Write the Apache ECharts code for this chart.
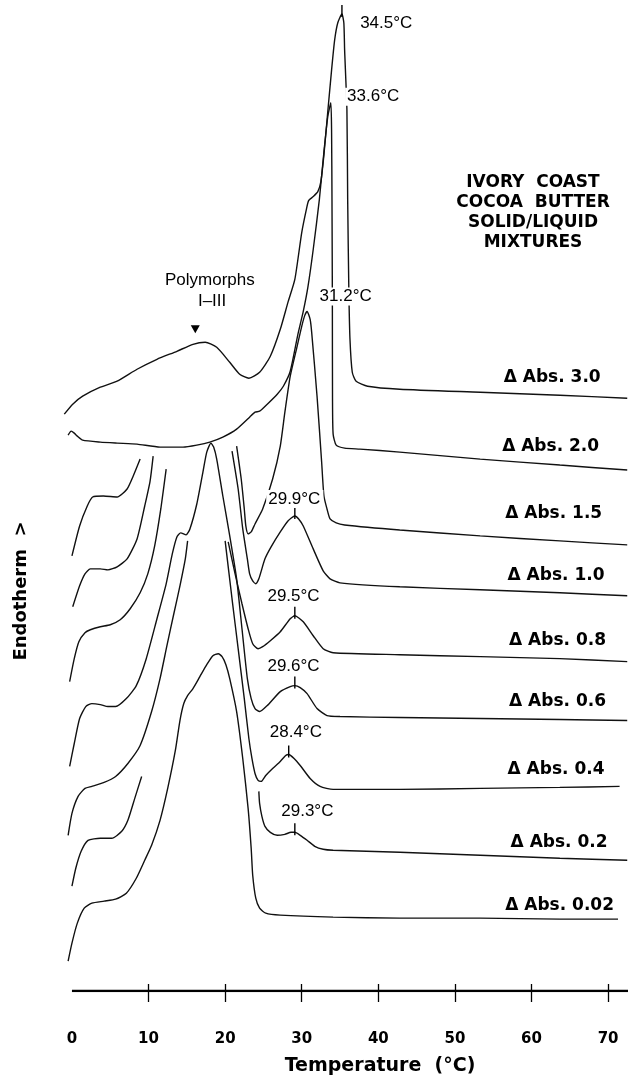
<!DOCTYPE html>
<html>
<head>
<meta charset="utf-8">
<script src="https://cdn.jsdelivr.net/npm/echarts@6.0.0/dist/echarts.min.js"></script>
<style>
  html, body { margin: 0; padding: 0; background: #fff; }
  #chart { width: 628px; height: 1081px; }
</style>
</head>
<body>
<div id="chart"></div>
<script>
// DSC traces, [temperature °C, endotherm signal incl. trace offset]
// a trace is a list of segments (the pen runs off scale between them)
const abs30 = [[
  [-1.0, 57.8], [0.1, 58.8], [1.4, 59.6], [3.7, 60.5], [5.9, 61.1], [8.5, 62.3], [11.1, 63.3],
  [13.7, 64.1], [15.8, 64.8], [17.4, 65.0], [18.9, 64.5], [20.6, 63.0], [21.9, 61.8], [23.1, 61.4],
  [24.5, 62.0], [25.9, 63.6], [27.2, 66.3], [28.2, 69.0], [29.1, 71.3], [30.0, 76.0], [30.6, 78.3],
  [30.9, 79.2], [31.5, 79.6], [32.1, 80.1], [32.5, 81.1], [32.9, 83.8], [33.4, 88.1], [33.9, 92.3],
  [34.3, 95.3], [34.7, 97.0], [35.25, 97.9], [35.5, 97.0], [35.6, 94.3], [35.9, 88.3], [36.0, 79.3],
  [36.15, 70.3], [36.3, 65.3], [36.6, 62.0], [37.1, 61.1], [38.6, 60.6], [42.8, 60.3], [53.3, 60.0],
  [63.7, 59.7], [72.5, 59.4]
]];
const abs20 = [[
  [-0.5, 55.7], [-0.1, 56.1], [0.3, 55.9], [0.7, 55.6], [1.4, 55.2], [3.7, 55.0], [5.9, 54.9],
  [8.5, 54.8], [11.5, 54.5], [14.5, 54.5], [16.3, 54.7], [18.0, 55.0], [19.7, 55.5], [21.5, 56.3],
  [23.2, 57.5], [23.9, 58.0], [24.5, 58.1], [25.5, 58.8], [26.8, 59.8], [27.6, 60.6], [28.5, 62.1],
  [29.5, 65.8], [30.2, 68.1], [30.8, 70.5], [31.5, 74.3], [32.3, 79.3], [32.9, 84.1], [33.4, 87.6],
  [33.8, 89.0], [33.9, 86.0], [33.95, 79.3], [34.0, 69.3], [34.02, 59.3], [34.1, 55.8], [34.5, 54.7],
  [35.6, 54.4], [37.6, 54.3], [42.8, 54.0], [53.3, 53.3], [63.7, 52.7], [72.5, 52.2]
]];
const abs15 = [[
  [0.0, 43.6], [1.0, 46.6], [2.0, 48.6], [2.7, 49.5], [4.1, 49.6], [5.9, 49.5], [7.2, 50.3],
  [8.0, 51.6], [8.9, 53.3]
], [
  [21.5, 54.6], [22.1, 51.3], [22.5, 48.3], [22.7, 46.6], [23.0, 45.8], [23.4, 46.0], [23.9, 46.8],
  [24.9, 48.3], [26.2, 51.3], [27.2, 54.6], [27.8, 58.0], [28.5, 61.6], [29.4, 64.6], [30.0, 66.6],
  [30.4, 67.7], [30.7, 68.1], [31.1, 67.3], [31.3, 66.0], [32.0, 59.6], [32.6, 53.0], [32.9, 49.6],
  [33.3, 48.3], [33.7, 47.3], [34.5, 46.9], [35.6, 46.7], [42.8, 46.2], [53.3, 45.6], [63.7, 45.1],
  [72.5, 44.7]
]];
const abs10 = [[
  [0.1, 38.5], [1.0, 40.6], [1.7, 41.8], [2.4, 42.3], [3.7, 42.3], [4.7, 42.2], [5.9, 42.5],
  [7.2, 43.3], [8.5, 45.3], [9.5, 48.6], [10.2, 51.1], [10.6, 53.6]
], [
  [20.9, 54.1], [21.7, 50.3], [22.3, 46.3], [22.9, 43.3], [23.2, 41.8], [23.6, 41.1], [24.0, 40.8],
  [24.4, 41.3], [25.2, 43.3], [26.0, 44.5], [27.2, 46.0], [28.2, 47.1], [29.1, 47.6], [29.6, 47.3],
  [30.2, 46.6], [31.5, 44.3], [32.8, 42.1], [33.7, 41.3], [35.0, 40.9], [42.8, 40.5], [53.3, 40.2],
  [63.7, 39.9], [72.5, 39.6]
]];
const abs08 = [[
  [-0.3, 31.0], [0.3, 33.3], [0.9, 35.0], [1.7, 35.9], [2.4, 36.2], [3.7, 36.5], [5.0, 36.7],
  [6.3, 37.2], [7.6, 38.3], [8.9, 39.9], [9.9, 41.8], [10.8, 44.6], [11.6, 48.3], [12.3, 52.3]
], [
  [20.4, 45.0], [21.3, 41.8], [22.2, 38.8], [23.0, 36.3], [23.6, 34.8], [24.3, 34.3], [24.9, 34.5],
  [25.9, 35.1], [27.2, 36.0], [28.5, 37.3], [29.1, 37.6], [30.2, 37.0], [31.5, 35.6], [32.8, 34.3],
  [34.1, 33.9], [42.8, 33.7], [53.3, 33.5], [63.7, 33.3], [72.5, 33.0]
]];
const abs06 = [[
  [-0.3, 22.5], [0.3, 24.8], [1.0, 27.3], [1.8, 28.5], [2.6, 28.8], [3.7, 28.7], [4.7, 28.5],
  [5.7, 28.5], [7.1, 29.3], [8.4, 30.6], [9.7, 33.3], [11.1, 37.3], [12.3, 40.8], [13.1, 43.8],
  [13.7, 45.5], [14.2, 45.9], [14.9, 45.7], [15.4, 46.3], [16.3, 48.8], [17.1, 52.0], [17.6, 54.0],
  [18.15, 54.9], [18.5, 54.5], [18.9, 53.3], [19.7, 49.6], [20.6, 45.6], [21.5, 41.3], [22.2, 36.3],
  [22.9, 31.3], [23.4, 29.3], [23.9, 28.3], [24.5, 28.0], [25.5, 28.6], [27.2, 30.0], [28.5, 30.5],
  [29.1, 30.6], [29.8, 30.4], [30.7, 29.8], [32.0, 28.3], [33.3, 27.6], [35.0, 27.5], [42.8, 27.4],
  [53.3, 27.3], [63.7, 27.2], [72.5, 27.1]
]];
const abs04 = [[
  [-0.5, 15.6], [0.0, 17.8], [0.8, 19.5], [1.7, 20.3], [2.6, 20.5], [4.2, 20.9], [5.7, 21.5],
  [7.3, 22.8], [8.9, 24.6], [10.4, 28.0], [11.5, 31.3], [12.4, 34.6], [13.3, 37.8], [14.1, 40.6],
  [14.8, 43.3], [15.1, 45.1]
], [
  [20.0, 45.1], [20.9, 39.3], [21.7, 34.3], [22.5, 29.3], [23.1, 25.3], [23.5, 23.3], [23.9, 21.8],
  [24.3, 21.1], [24.7, 21.0], [25.3, 21.6], [26.2, 22.3], [27.2, 23.0], [27.9, 23.6], [28.3, 23.7],
  [29.0, 23.3], [29.8, 22.6], [31.1, 21.3], [32.4, 20.5], [34.1, 20.2], [42.8, 20.2], [53.3, 20.3],
  [63.7, 20.4], [71.5, 20.5]
]];
const abs02 = [[
  [0.0, 10.5], [0.5, 12.3], [1.2, 14.0], [2.1, 15.1], [3.7, 15.3], [5.2, 15.3], [6.5, 16.0],
  [7.3, 17.1], [8.2, 19.3], [9.1, 21.5]
], [
  [24.4, 20.0], [24.5, 18.8], [24.8, 17.5], [25.2, 16.5], [25.9, 15.9], [26.8, 15.6], [27.8, 15.7],
  [28.6, 15.9], [29.1, 15.9], [29.8, 15.6], [30.7, 15.1], [31.7, 14.5], [32.8, 14.2], [34.1, 14.1],
  [42.8, 13.9], [53.3, 13.6], [63.7, 13.3], [72.5, 13.1]
]];
const abs002 = [[
  [-0.5, 3.0], [0.0, 4.8], [0.7, 6.8], [1.6, 8.3], [2.6, 8.8], [4.2, 9.0], [5.7, 9.2], [7.1, 9.8],
  [8.4, 11.3], [9.5, 13.1], [10.4, 14.6], [11.5, 17.1], [12.5, 20.3], [13.5, 24.1], [14.1, 27.1],
  [14.6, 28.8], [15.1, 29.6], [15.8, 30.3], [16.7, 31.5], [17.6, 32.7], [18.4, 33.6], [19.1, 33.8],
  [19.6, 33.5], [20.1, 32.7], [20.6, 31.3], [21.5, 28.0], [22.3, 23.3], [23.0, 18.3], [23.4, 14.3],
  [23.6, 11.6], [24.0, 9.3], [24.5, 8.3], [25.3, 7.8], [27.2, 7.6], [34.1, 7.4], [42.8, 7.3],
  [53.3, 7.3], [63.7, 7.2], [71.3, 7.2]
]];

// trace names, and where their names sit
const absNames = ['Δ Abs. 3.0', 'Δ Abs. 2.0', 'Δ Abs. 1.5', 'Δ Abs. 1.0', 'Δ Abs. 0.8',
  'Δ Abs. 0.6', 'Δ Abs. 0.4', 'Δ Abs. 0.2', 'Δ Abs. 0.02'];
const absNameT = [56.3, 56.1, 56.5, 56.8, 57.0, 57.0, 56.8, 57.2, 56.5];
const absNameV = [61.5, 54.6, 47.8, 41.6, 35.1, 29.0, 22.2, 14.9, 8.6];

// marked peaks
const peakT = [35.25, 29.1, 29.1, 29.1, 28.3, 29.1];
const peakV = [97.9, 47.6, 37.6, 30.6, 23.7, 15.9];

// peak temperature notes
const peakText = ['34.5°C', '33.6°C', '31.2°C', '29.9°C', '29.5°C', '29.6°C', '28.4°C', '29.3°C'];
const peakTextT = [37.3, 35.6, 32.0, 25.3, 25.2, 25.2, 25.5, 27.0];
const peakTextV = [97.0, 89.6, 69.6, 49.3, 39.5, 32.5, 25.9, 18.0];

// polymorph note
const polyText = ['Polymorphs', 'I–III'];
const polyT = [18.0, 18.3];
const polyV = [71.2, 69.1];
const polyMarker = [16.1, 66.3];

// temperature axis: drawn line runs from 0 to the right edge
const axisRun = [[0, 0], [72.6, 0]];
const xLabels = [0, 10, 20, 30, 40, 50, 60, 70];
const xTicks = [10, 20, 30, 40, 50, 60, 70];

const ink = '#000';
const plainFont = 'Liberation Sans, Arial, sans-serif';
const boldFont = 'DejaVu Sans, sans-serif';

const chart = echarts.init(document.getElementById('chart'));

const traces = [abs30, abs20, abs15, abs10, abs08, abs06, abs04, abs02, abs002];
const series = [];
traces.forEach(segs => {
  segs.forEach(seg => {
    series.push({
      type: 'line', data: seg, symbol: 'none', smooth: 0.2, silent: true,
      lineStyle: {color: '#111', width: 1.4}, z: 2
    });
  });
});

// axis line
series.push({
  type: 'line', data: axisRun, symbol: 'none', silent: true,
  lineStyle: {color: ink, width: 2.5}, z: 1
});

// little tick marks on the peaks
series.push({
  type: 'scatter', silent: true, clip: false,
  data: peakT.map((t, i) => [t, peakV[i]]),
  symbol: 'rect', symbolSize: [1.4, 12], symbolOffset: [0, -3],
  itemStyle: {color: ink, opacity: 1}, z: 3
});

// polymorph arrow
series.push({
  type: 'scatter', silent: true, data: [polyMarker],
  symbol: 'triangle', symbolRotate: 180, symbolSize: [9, 8],
  itemStyle: {color: ink, opacity: 1}, z: 3
});

const textSeries = (texts, ts, vs, label) => ({
  type: 'scatter', silent: true, clip: false, symbolSize: 1,
  itemStyle: {color: 'rgba(0,0,0,0)', opacity: 1},
  data: texts.map((s, i) => ({value: [ts[i], vs[i]], name: s})),
  label: Object.assign({show: true, formatter: p => p.name, color: ink, opacity: 1}, label),
  z: 5
});

series.push(textSeries(peakText, peakTextT, peakTextV, {
  position: 'right', distance: 0, fontFamily: plainFont, fontSize: 17,
  backgroundColor: '#fff', padding: [1, 3, 0, 2]
}));
series.push(textSeries(polyText, polyT, polyV, {
  position: 'inside', fontFamily: plainFont, fontSize: 17
}));
series.push(textSeries(absNames, absNameT, absNameV, {
  position: 'right', distance: 0, fontFamily: boldFont, fontWeight: 'bold', fontSize: 17
}));

const titleLines = ['IVORY  COAST', 'COCOA  BUTTER', 'SOLID/LIQUID', 'MIXTURES'];

chart.setOption({
  animation: false,
  backgroundColor: '#fff',
  grid: {left: 62, right: 0, top: 0, bottom: 88},
  xAxis: [{
    type: 'value', min: -1.3, max: 72.6, position: 'bottom',
    axisLine: {show: false},
    axisTick: {show: true, inside: false, length: 11, customValues: xTicks,
      lineStyle: {color: ink, width: 1.3}},
    axisLabel: {customValues: xLabels, margin: 41, color: ink, fontFamily: boldFont,
      fontWeight: 'bold', fontSize: 15},
    splitLine: {show: false},
    name: 'Temperature  (°C)', nameLocation: 'middle', nameGap: 66,
    nameTextStyle: {color: ink, fontFamily: boldFont, fontWeight: 'bold', fontSize: 19,
      padding: [0, 0, 0, 70]}
  }, {
    type: 'value', min: -1.3, max: 72.6, position: 'bottom',
    axisLine: {show: false},
    axisTick: {show: true, inside: true, length: 7, customValues: xTicks,
      lineStyle: {color: ink, width: 1.3}},
    axisLabel: {show: false},
    splitLine: {show: false}
  }],
  yAxis: {type: 'value', min: 0, max: 99.3, show: false},
  graphic: [
    ...titleLines.map((t, i) => ({
      type: 'text', x: 533, y: 183 + i * 20, silent: true,
      style: {text: t, fill: ink, font: 'bold 17px DejaVu Sans', align: 'center', verticalAlign: 'middle'}
    })),
    {
      type: 'text', x: 21, y: 591, rotation: Math.PI / 2, silent: true,
      style: {text: 'Endotherm  >', fill: ink, font: 'bold 18px DejaVu Sans',
        align: 'center', verticalAlign: 'middle'}
    }
  ],
  series: series
});
</script>
</body>
</html>
